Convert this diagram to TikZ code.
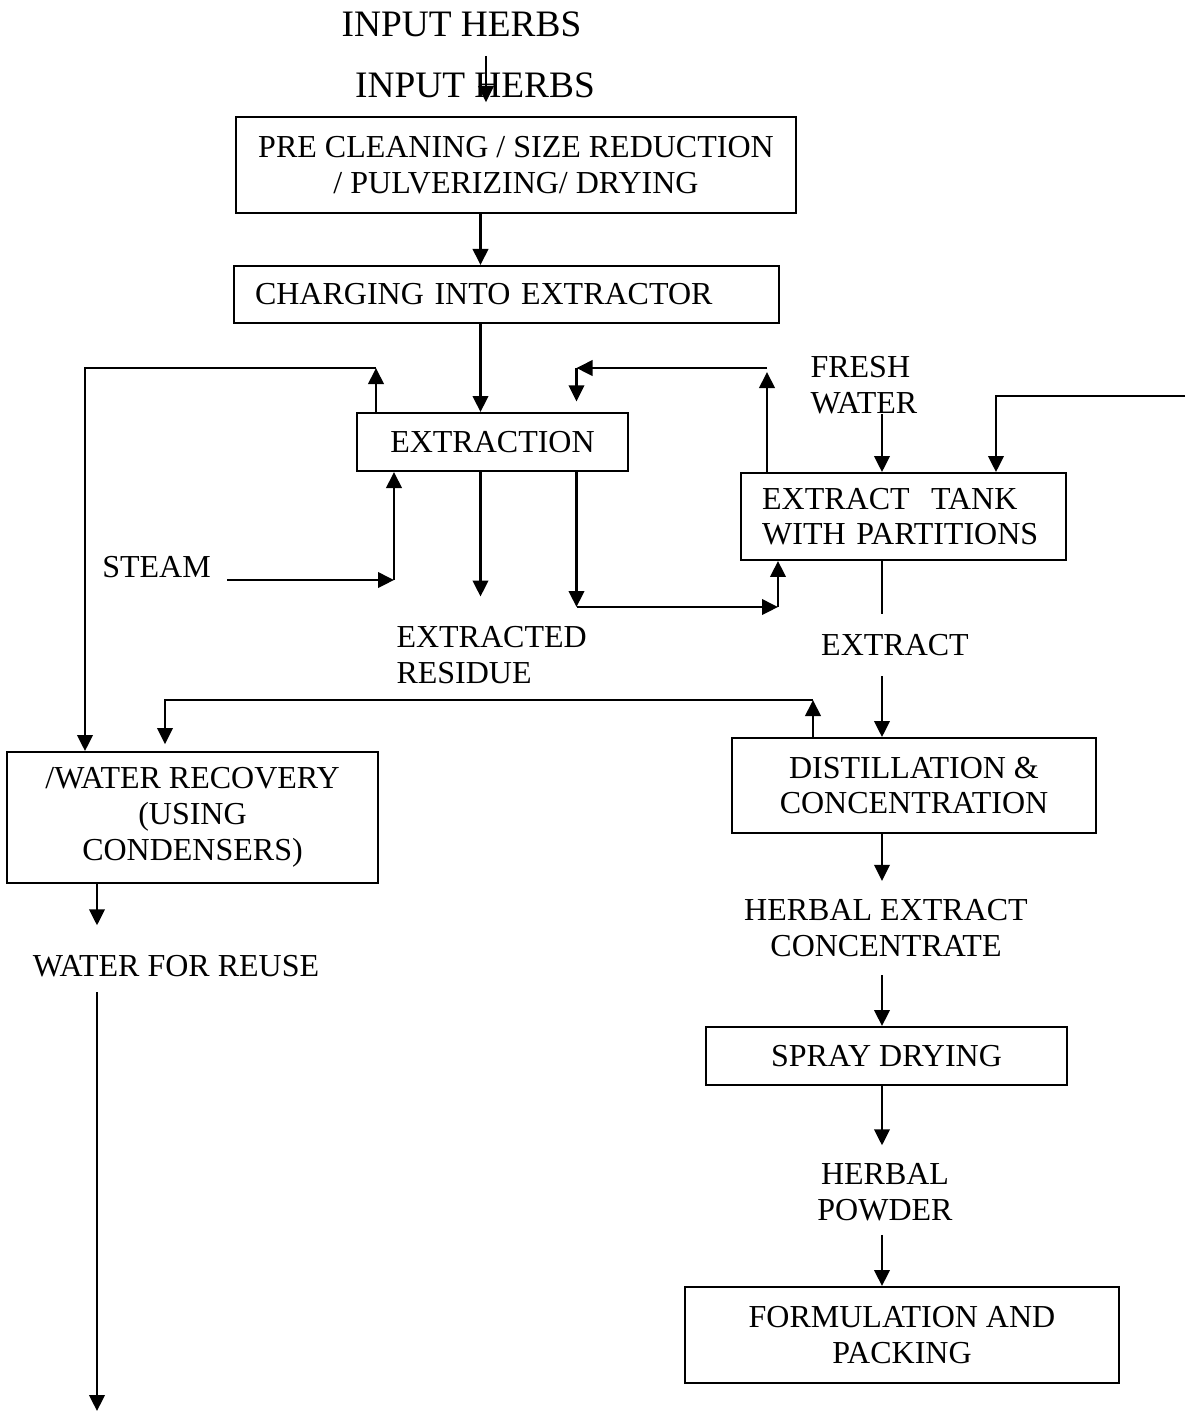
\documentclass[tikz,border=0pt]{standalone}
\usepackage{fontspec}
\setmainfont{Liberation Serif}
\usetikzlibrary{arrows.meta}
\tikzset{
    procBox/.style={draw, line width=0.75pt, inner sep=0pt, align=center, font=\fontsize{12}{13.4}\selectfont},
    lbl/.style={inner sep=0pt, align=center, font=\fontsize{12}{13.4}\selectfont},
    headLbl/.style={inner sep=0pt, font=\fontsize{14}{16}\selectfont},
    flow/.style={line width=0.85pt, -{Triangle[length=6pt,width=5.8pt]}},
    feedLine/.style={line width=0.85pt}
}

\begin{document}
\begin{tikzpicture}[x=0.375pt,y=-0.375pt]
\useasboundingbox (0,0) rectangle (1187,1413);
% columns of the vertical arrows
\coordinate (colT) at (486,0);
\coordinate (colA) at (480.5,0);
\coordinate (colR) at (882,0);
\coordinate (colL) at (97,0);
\coordinate (colW) at (85,0);
\coordinate (colC) at (165,0);
\coordinate (colF) at (996,0);
% bends
\coordinate (vapL) at (376,368);
\coordinate (stmC) at (394,580);
\coordinate (resA) at (576.5,607);
\coordinate (resB) at (778,607);
\coordinate (recyA) at (767,368);
\coordinate (recyB) at (576.5,368);
\coordinate (feedR) at (1185,396);
\coordinate (condA) at (813,700);
\coordinate (waterOut) at (97,1411);

\node[headLbl] (herbsA) at (461.5,24) {INPUT HERBS};
\node[headLbl] (herbsB) at (475,85.5) {INPUT HERBS};

\node[procBox, minimum width=210pt, minimum height=36pt] (pre) at (516,165) {PRE CLEANING / SIZE REDUCTION\\/ PULVERIZING/ DRYING};
\node[procBox, minimum width=204.4pt, minimum height=21.4pt, text width=188.6pt, align=left] (charge) at (506.5,294.5) {CHARGING INTO EXTRACTOR};
\node[procBox, minimum width=101.6pt, minimum height=21.75pt] (extr) at (492.5,442) {EXTRACTION};
\node[procBox, minimum width=121.9pt, minimum height=32.6pt, text width=106pt, align=left] (tank) at (903.5,516.5) {EXTRACT\ \ TANK\\WITH PARTITIONS};
\node[procBox, minimum width=136.5pt, minimum height=35.6pt] (dist) at (914,785.5) {DISTILLATION \&\\CONCENTRATION};
\node[procBox, minimum width=139.1pt, minimum height=49.1pt] (recov) at (192.5,817.5) {/WATER RECOVERY\\(USING\\CONDENSERS)};
\node[procBox, minimum width=135.4pt, minimum height=21.75pt] (spray) at (886.5,1056) {SPRAY DRYING};
\node[procBox, minimum width=162.75pt, minimum height=36pt] (formul) at (902,1335) {FORMULATION AND\\PACKING};

\node[lbl] (steam) at (156.5,567.5) {STEAM};
\node[lbl, anchor=west, align=left] (resid) at (396,655) {EXTRACTED\\RESIDUE};
\node[lbl, anchor=west, align=left] (fresh) at (810,385) {FRESH\\WATER};
\node[lbl] (xtract) at (895,645) {EXTRACT};
\node[lbl] (conc) at (886,928) {HERBAL EXTRACT\\CONCENTRATE};
\node[lbl] (powder) at (885,1192.5) {HERBAL\\POWDER};
\node[lbl] (reuse) at (176,966) {WATER FOR REUSE};

% main line
\draw[flow, shorten <=7pt, shorten >=5.2pt] (colT |- herbsA.south) -- (colT |- pre.north);
\draw[flow] (colA |- pre.south) -- (colA |- charge.north);
\draw[flow] (colA |- charge.south) -- (colA |- extr.north);
\draw[flow, shorten >=11pt] (colA |- extr.south) -- (colA |- resid.north);

% steam
\draw[flow, shorten <=6pt] (steam.east |- stmC) -- (stmC);
\draw[flow] (stmC) -- (stmC |- extr.south);

% vapour to recovery
\draw[flow] (vapL |- extr.north) -- (vapL);
\draw[flow] (vapL) -| (colW |- recov.north);

% extract to tank
\draw[flow] (resA |- extr.south) -- (resA);
\draw[flow] (resA) -- (resB);
\draw[flow] (resB) -- (resB |- tank.south);

% recycle from tank
\draw[flow, shorten >=1.5pt] (recyA |- tank.north) -- (recyA);
\draw[flow] (recyA) -- (recyB);
\draw[flow, shorten >=4pt] (recyB) -- (recyB |- extr.north);

% fresh water and feed
\draw[flow] (colR |- fresh.south) -- (colR |- tank.north);
\draw[flow] (feedR) -| (colF |- tank.north);

% extract to distillation
\draw[feedLine, shorten >=7.5pt] (colR |- tank.south) -- (colR |- xtract.north);
\draw[flow, shorten <=7.5pt] (colR |- xtract.south) -- (colR |- dist.north);

% condensate back
\draw[flow] (condA |- dist.north) -- (condA);
\draw[flow, shorten >=2.6pt] (condA) -| (colC |- recov.north);

% product line
\draw[flow, shorten >=6.75pt] (colR |- dist.south) -- (colR |- conc.north);
\draw[flow, shorten <=6.75pt] (colR |- conc.south) -- (colR |- spray.north);
\draw[flow, shorten >=6.75pt] (colR |- spray.south) -- (colR |- powder.north);
\draw[flow, shorten <=4.9pt] (colR |- powder.south) -- (colR |- formul.north);

% water side
\draw[flow, shorten >=11pt] (colL |- recov.south) -- (colL |- reuse.north);
\draw[flow, shorten <=5.6pt] (colL |- reuse.south) -- (waterOut);
\end{tikzpicture}
\end{document}
